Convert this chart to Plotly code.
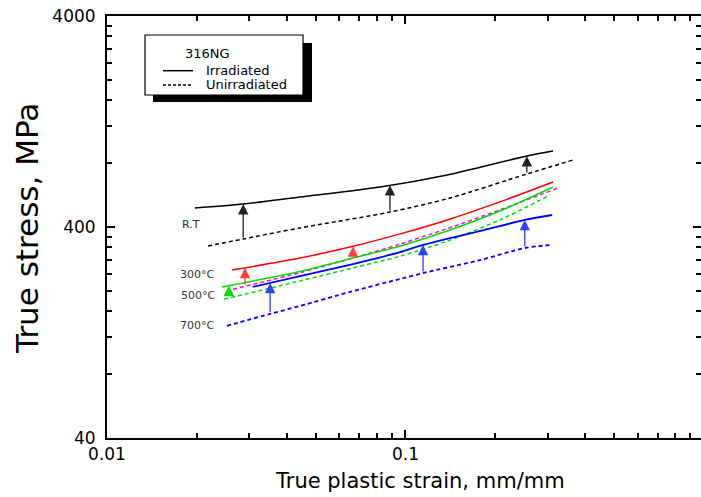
import numpy as np
import plotly.graph_objects as go

# 316NG true stress (MPa) vs true plastic strain (mm/mm)
rt_irr_strain = [0.0197, 0.0286, 0.0443, 0.0822, 0.138, 0.255, 0.312]
rt_irr_stress = [492, 514, 555, 619, 706, 868, 916]
rt_unirr_strain = [0.0218, 0.0286, 0.0443, 0.0887, 0.141, 0.255, 0.364]
rt_unirr_stress = [325, 351, 396, 471, 549, 713, 831]

t300_irr_strain = [0.0262, 0.0443, 0.0662, 0.0959, 0.138, 0.207, 0.312]
t300_irr_stress = [250, 285, 323, 371, 432, 526, 654]
t300_unirr_strain = [0.0264, 0.0443, 0.0667, 0.0959, 0.138, 0.207, 0.324]
t300_unirr_stress = [203, 243, 285, 332, 393, 482, 612]

t500_irr_strain = [0.0243, 0.0443, 0.0667, 0.0959, 0.138, 0.207, 0.312]
t500_irr_stress = [208, 246, 285, 325, 383, 476, 619]
t500_unirr_strain = [0.0247, 0.0443, 0.0667, 0.0959, 0.138, 0.207, 0.305]
t500_unirr_stress = [182, 222, 256, 291, 343, 432, 567]

t700_irr_strain = [0.0308, 0.0443, 0.0667, 0.0959, 0.1145, 0.178, 0.251, 0.310]
t700_irr_stress = [208, 234, 267, 304, 329, 383, 432, 456]
t700_unirr_strain = [0.0252, 0.0352, 0.0443, 0.0652, 0.0959, 0.1145, 0.178, 0.251, 0.310]
t700_unirr_stress = [136, 155, 169, 197, 227, 242, 279, 318, 329]

# strains at which the irradiation-hardening arrows are drawn
rt_arrow_strain = [0.0286, 0.0887, 0.255]
t300_arrow_strain = [0.0290, 0.0667]
t500_arrow_strain = [0.0256]
t700_arrow_strain = [0.0352, 0.1145, 0.251]

# temperature labels: (text, strain, stress)
temp_labels = [("R.T", 0.0191, 409), ("300°C", 0.0200, 237),
               ("500°C", 0.0202, 190), ("700°C", 0.0200, 137)]

x_tickvals = [0.01, 0.1, 1]
x_ticktext = ["0.01", "0.1", "1"]
y_tickvals = [40, 400, 4000]
y_ticktext = ["40", "400", "4000"]
x_minor = [k * 0.01 for k in range(2, 10)] + [k * 0.1 for k in range(2, 10)]
y_minor = [k * 40 for k in range(2, 10)] + [k * 400 for k in range(2, 10)]

FONT = "DejaVu Sans"
DASH = "4px,3px"

groups = [
    ("black", "black", rt_irr_strain, rt_irr_stress, rt_unirr_strain, rt_unirr_stress, rt_arrow_strain, "#222222", 1.5),
    ("red", "magenta", t300_irr_strain, t300_irr_stress, t300_unirr_strain, t300_unirr_stress, t300_arrow_strain, "#ff4040", 1.5),
    ("#00e000", "#00e000", t500_irr_strain, t500_irr_stress, t500_unirr_strain, t500_unirr_stress, t500_arrow_strain, "#00e000", 1.5),
    ("blue", "blue", t700_irr_strain, t700_irr_stress, t700_unirr_strain, t700_unirr_stress, t700_arrow_strain, "#3040ff", 1.8),
]

fig = go.Figure()
annotations = []

for c_irr, c_un, xs_i, ys_i, xs_u, ys_u, arrows, c_arr, lw in groups:
    fig.add_trace(go.Scatter(x=xs_u, y=ys_u, mode="lines",
                             line=dict(color=c_un, width=lw, dash=DASH,
                                       shape="spline", smoothing=0.8)))
    fig.add_trace(go.Scatter(x=xs_i, y=ys_i, mode="lines",
                             line=dict(color=c_irr, width=lw,
                                       shape="spline", smoothing=0.8)))
    lx_i, ly_i = np.log10(xs_i), np.log10(ys_i)
    lx_u, ly_u = np.log10(xs_u), np.log10(ys_u)
    for s in arrows:
        ls = np.log10(s)
        top = float(np.interp(ls, lx_i, ly_i))
        bot = float(np.interp(ls, lx_u, ly_u))
        annotations.append(dict(
            x=ls, y=top, ax=ls, ay=bot, xref="x", yref="y", axref="x", ayref="y",
            text="", showarrow=True, arrowhead=2, arrowsize=1.6, arrowwidth=1.3,
            arrowcolor=c_arr, standoff=0, startstandoff=0))

for txt, sx, sy in temp_labels:
    annotations.append(dict(x=np.log10(sx), y=np.log10(sy), xref="x", yref="y",
                            text=txt, showarrow=False, xanchor="center", yanchor="middle",
                            font=dict(family=FONT, size=11, color="#333333")))

# legend box with drop shadow
shapes = [
    dict(type="rect", xref="paper", yref="paper", x0=0.0774, x1=0.3451, y0=0.7962, y1=0.936,
         fillcolor="black", line=dict(width=0), layer="above"),
    dict(type="rect", xref="paper", yref="paper", x0=0.064, x1=0.330, y0=0.8128, y1=0.955,
         fillcolor="white", line=dict(color="black", width=1.2), layer="above"),
    dict(type="line", xref="paper", yref="paper", x0=0.0943, x1=0.1448, y0=0.8704, y1=0.8704,
         line=dict(color="black", width=1.5), layer="above"),
    dict(type="line", xref="paper", yref="paper", x0=0.0943, x1=0.1448, y0=0.8365, y1=0.8365,
         line=dict(color="black", width=1.5, dash="3px,2px"), layer="above"),
]
annotations += [
    dict(x=0.170, y=0.912, xref="paper", yref="paper", text="316NG", showarrow=False,
         xanchor="center", yanchor="middle", font=dict(family=FONT, size=13, color="black")),
    dict(x=0.1633, y=0.8704, xref="paper", yref="paper", text="Irradiated", showarrow=False,
         xanchor="left", yanchor="middle", font=dict(family=FONT, size=13, color="black")),
    dict(x=0.1633, y=0.8365, xref="paper", yref="paper", text="Unirradiated", showarrow=False,
         xanchor="left", yanchor="middle", font=dict(family=FONT, size=13, color="black")),
]

# axis titles
annotations += [
    dict(x=0.527, y=-0.103, xref="paper", yref="paper", text="True plastic strain, mm/mm",
         showarrow=False, xanchor="center", yanchor="middle",
         font=dict(family=FONT, size=21, color="black")),
    dict(x=-0.1347, y=0.4976, xref="paper", yref="paper", text="True stress, MPa",
         showarrow=False, xanchor="center", yanchor="middle", textangle=-90,
         font=dict(family=FONT, size=31, color="black")),
]

axis_common = dict(type="log", ticks="inside", ticklen=8, tickwidth=1.5, tickcolor="black",
                   showline=True, linewidth=2, linecolor="black", mirror="ticks",
                   showgrid=False, zeroline=False,
                   tickfont=dict(family=FONT, size=17, color="black"))

fig.update_xaxes(**axis_common, range=[-2, -0.01], tickmode="array",
                 tickvals=x_tickvals, ticktext=x_ticktext,
                 minor=dict(tickmode="array", tickvals=x_minor, ticks="inside", ticklen=5,
                            tickwidth=1.5, tickcolor="black", showgrid=False))
fig.update_yaxes(**axis_common, range=[np.log10(40), np.log10(4000)], tickmode="array",
                 tickvals=y_tickvals, ticktext=y_ticktext,
                 minor=dict(tickmode="array", tickvals=y_minor, ticks="inside", ticklen=5,
                            tickwidth=1.5, tickcolor="black", showgrid=False),
                 ticklabelstandoff=6)

fig.update_layout(width=701, height=497, margin=dict(l=107, r=0, t=16, b=59, autoexpand=False),
                  plot_bgcolor="white", paper_bgcolor="white", showlegend=False,
                  shapes=shapes, annotations=annotations)

fig.write_html("out.html")
